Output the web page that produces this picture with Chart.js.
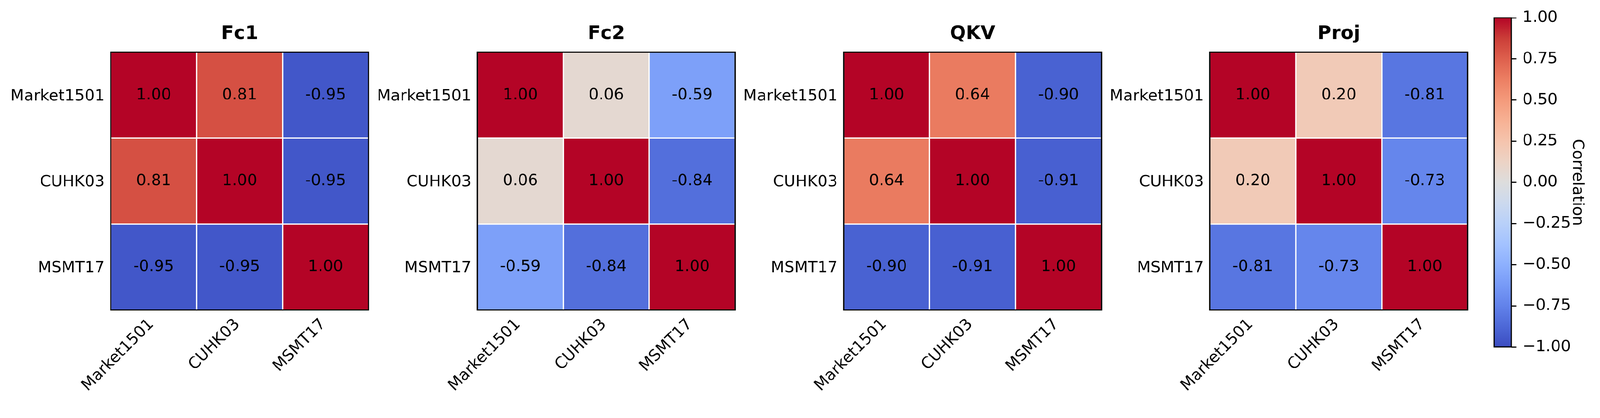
<!DOCTYPE html>
<html>
<head>
<meta charset="utf-8">
<script src="https://cdn.jsdelivr.net/npm/chart.js@4.4.1/dist/chart.umd.min.js"></script>
<style>
  html, body { margin: 0; padding: 0; background: #fff; overflow: hidden; }
  #stage { position: absolute; left: 0; top: 0; width: 4233px; height: 1070px; transform-origin: 0 0; }
  #stage canvas { position: absolute; top: 0; }
</style>
</head>
<body>
<div id="stage">
  <canvas id="p0"></canvas>
  <canvas id="p1"></canvas>
  <canvas id="p2"></canvas>
  <canvas id="p3"></canvas>
  <canvas id="cbar"></canvas>
</div>
<script>
// correlation between datasets, per layer
const datasetNames = ["Market1501", "CUHK03", "MSMT17"];
const panelTitles = ["Fc1", "Fc2", "QKV", "Proj"];
const fc1 = [
  [1.00, 0.81, -0.95],
  [0.81, 1.00, -0.95],
  [-0.95, -0.95, 1.00],
];
const fc2 = [
  [1.00, 0.06, -0.59],
  [0.06, 1.00, -0.84],
  [-0.59, -0.84, 1.00],
];
const qkv = [
  [1.00, 0.64, -0.90],
  [0.64, 1.00, -0.91],
  [-0.90, -0.91, 1.00],
];
const proj = [
  [1.00, 0.20, -0.81],
  [0.20, 1.00, -0.73],
  [-0.81, -0.73, 1.00],
];
const matrices = [fc1, fc2, qkv, proj];
const cbarRange = [-1, 1];
const cbarStep = 0.25;
const cbarLabel = "Correlation";

const FONT = "'DejaVu Sans', sans-serif";

// fit the 4233x1070 design into whatever the viewport really is
const stage = document.getElementById("stage");
const k = Math.min(window.innerWidth / 4233, window.innerHeight / 1070);
if (Math.abs(k - 1) > 0.002) stage.style.transform = `scale(${k})`;

// coolwarm colormap (Moreland), 17 stops from -1 to 1
const coolwarm = [
  [59, 76, 192], [77, 104, 215], [98, 130, 234], [119, 154, 247],
  [141, 176, 254], [163, 194, 255], [184, 208, 249], [204, 217, 238],
  [221, 221, 221], [236, 211, 197], [245, 196, 173], [247, 177, 148],
  [244, 154, 123], [236, 127, 99], [222, 96, 77], [203, 62, 56],
  [180, 4, 38],
];

function cmap(v) {
  const t = Math.min(1, Math.max(0, (v + 1) / 2)) * (coolwarm.length - 1);
  const i = Math.min(coolwarm.length - 2, Math.floor(t));
  const f = t - i;
  const a = coolwarm[i], b = coolwarm[i + 1];
  const c = a.map((x, n) => Math.round(x + (b[n] - x) * f));
  return `rgb(${c[0]},${c[1]},${c[2]})`;
}

const heatLefts = [293, 1263, 2232, 3201];
const heatW = 682;
const labelSpace = 280;

const cellText = {
  id: "cellText",
  afterDatasetsDraw(chart) {
    const ctx = chart.ctx;
    const area = chart.chartArea;
    ctx.save();
    ctx.fillStyle = "#000";
    ctx.font = `41.7px ${FONT}`;
    ctx.textAlign = "center";
    ctx.textBaseline = "alphabetic";
    chart.data.datasets.forEach((ds, n) => {
      chart.getDatasetMeta(n).data.forEach((bar, j) => {
        const yc = (bar.y + bar.base) / 2;
        ctx.fillText(ds.values[j].toFixed(2), bar.x, yc + 11);
      });
    });
    ctx.strokeStyle = "#000";
    ctx.lineWidth = 3.5;
    ctx.strokeRect(area.left, area.top, area.right - area.left, area.bottom - area.top);
    ctx.restore();
  },
};

function makePanel(idx) {
  const el = document.getElementById("p" + idx);
  el.width = labelSpace + heatW + 6;
  el.height = 1070;
  el.style.left = heatLefts[idx] - labelSpace + "px";
  const m = matrices[idx];
  // bottom row first, stacked upwards
  const datasets = [2, 1, 0].map((row) => ({
    data: m[row].map(() => 1),
    values: m[row],
    backgroundColor: m[row].map(cmap),
    borderColor: "#fff",
    borderWidth: 2,
    borderSkipped: false,
    barPercentage: 1,
    categoryPercentage: 1,
  }));
  new Chart(el, {
    type: "bar",
    data: { labels: datasetNames, datasets },
    plugins: [cellText],
    options: {
      responsive: false,
      animation: false,
      events: [],
      layout: { padding: { left: 0, right: 6, top: 0, bottom: 0 } },
      plugins: {
        legend: { display: false },
        tooltip: { enabled: false },
        title: {
          display: true,
          fullSize: false,
          text: panelTitles[idx],
          color: "#000",
          font: { family: FONT, size: 50, weight: "bold" },
          padding: { top: 60, bottom: 18 },
        },
      },
      scales: {
        x: {
          stacked: true,
          grid: { display: false, drawTicks: false },
          border: { display: false },
          ticks: {
            color: "#000",
            font: { family: FONT, size: 41.7 },
            minRotation: 45,
            maxRotation: 45,
            autoSkip: false,
            padding: 14,
            labelOffset: -6,
          },
          afterFit: (s) => { s.height = 250; },
        },
        y: {
          type: "linear",
          stacked: true,
          min: 0,
          max: 3,
          grid: { display: false, drawTicks: false },
          border: { display: false },
          afterBuildTicks: (s) => { s.ticks = [0.5, 1.5, 2.5].map((v) => ({ value: v })); },
          ticks: {
            color: "#000",
            font: { family: FONT, size: 41.7 },
            padding: 16,
            labelOffset: 3,
            callback: (v) => datasetNames[2 - Math.floor(v)],
          },
          afterFit: (s) => { s.width = labelSpace; },
        },
      },
    },
  });
}

const cbarFrame = {
  id: "cbarFrame",
  afterDatasetsDraw(chart) {
    const a = chart.chartArea;
    const ctx = chart.ctx;
    ctx.save();
    ctx.strokeStyle = "#000";
    ctx.lineWidth = 3;
    ctx.strokeRect(a.left, a.top, a.right - a.left, a.bottom - a.top);
    ctx.restore();
  },
};

function makeColorbar() {
  const el = document.getElementById("cbar");
  el.width = 333;
  el.height = 1070;
  el.style.left = "3900px";
  new Chart(el, {
    type: "bar",
    data: {
      labels: [""],
      datasets: [{
        data: [cbarRange],
        barPercentage: 1,
        categoryPercentage: 1,
        borderWidth: 0,
        backgroundColor: (c) => {
          const a = c.chart.chartArea;
          if (!a) return "#ddd";
          const g = c.chart.ctx.createLinearGradient(0, a.bottom, 0, a.top);
          coolwarm.forEach((col, i) => g.addColorStop(i / (coolwarm.length - 1), `rgb(${col[0]},${col[1]},${col[2]})`));
          return g;
        },
      }],
    },
    plugins: [cbarFrame],
    options: {
      responsive: false,
      animation: false,
      events: [],
      layout: { padding: { left: 53, right: 35, top: 47, bottom: 152 } },
      plugins: { legend: { display: false }, tooltip: { enabled: false } },
      scales: {
        x: { display: false },
        y: {
          position: "right",
          min: cbarRange[0],
          max: cbarRange[1],
          grid: { drawOnChartArea: false, drawTicks: true, tickLength: 14, tickWidth: 3, tickColor: "#000" },
          border: { display: false },
          ticks: {
            stepSize: cbarStep,
            color: "#000",
            font: { family: FONT, size: 41.7 },
            padding: 16,
            callback: (v) => v.toFixed(2).replace("-", "\u2212"),
          },
          title: {
            display: true,
            text: cbarLabel,
            color: "#000",
            font: { family: FONT, size: 41.7 },
            padding: 0,
          },
          afterFit: (s) => { s.width = 200; },
        },
      },
    },
  });
}

[0, 1, 2, 3].forEach(makePanel);
makeColorbar();
</script>
</body>
</html>
